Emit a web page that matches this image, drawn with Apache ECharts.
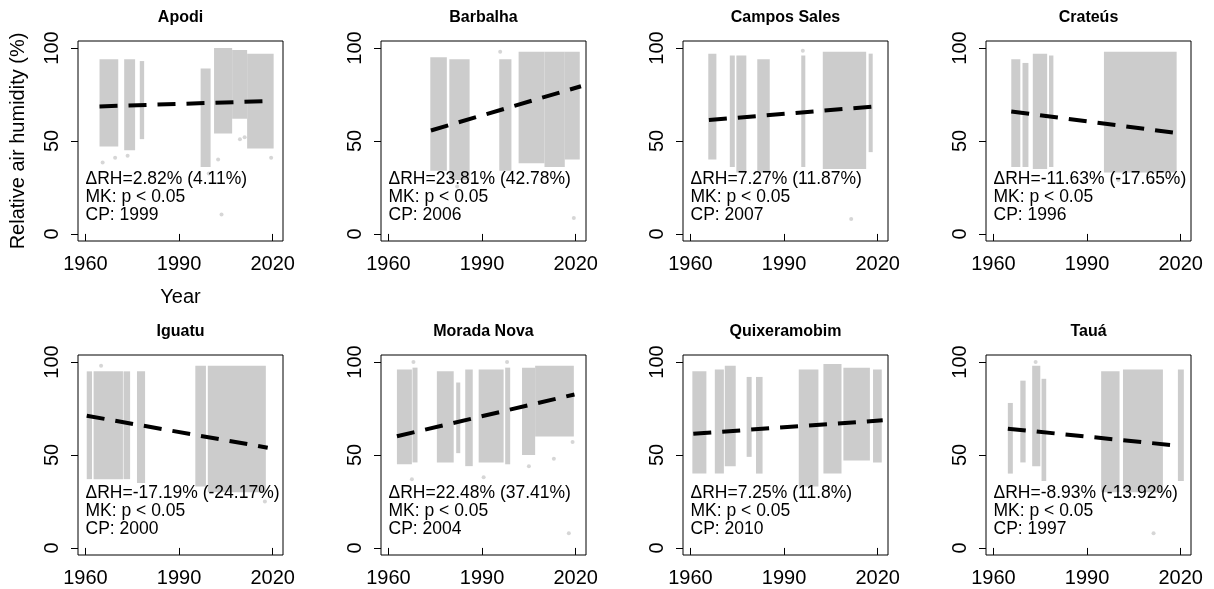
<!DOCTYPE html>
<html>
<head>
<meta charset="utf-8">
<script src="https://cdn.jsdelivr.net/npm/echarts@6/dist/echarts.min.js"></script>
<style>
  html, body { margin: 0; padding: 0; background: #ffffff; }
  #chart { width: 1214px; height: 589px; }
</style>
</head>
<body>
<div id="chart"></div>
<script>
// ---- data ---------------------------------------------------------------
const stations = ['Apodi', 'Barbalha', 'Campos Sales', 'Crateús',
                  'Iguatu', 'Morada Nova', 'Quixeramobim', 'Tauá'];
const xTicks = [1960, 1990, 2020];
const yTicks = [0, 50, 100];

// Observation periods: [first year, last year, lowest RH (%), highest RH (%)]
const apodiPeriods = [
  [1964.5, 1970.5, 47, 94], [1972.4, 1975.9, 45, 94], [1977.4, 1978.8, 51, 93],
  [1996.9, 2000.1, 36, 89], [2001.2, 2007.0, 54, 100], [2007.0, 2011.8, 62, 99],
  [2011.8, 2020.3, 46, 97]
];
const barbalhaPeriods = [
  [1973.4, 1978.7, 34, 95], [1979.5, 1986.0, 29, 94], [1995.5, 1999.4, 34, 94],
  [2001.7, 2010.0, 38, 98], [2010.0, 2016.5, 36, 98], [2016.5, 2021.3, 40, 98]
];
const camposSalesPeriods = [
  [1965.7, 1968.3, 40, 97], [1972.6, 1974.2, 36, 96], [1974.7, 1977.9, 33, 96],
  [1981.4, 1985.4, 33, 94], [1995.5, 1996.8, 36, 96], [2002.4, 2016.3, 35, 98],
  [2017.1, 2018.4, 44, 97]
];
const crateusPeriods = [
  [1965.7, 1968.6, 36, 94], [1969.3, 1971.2, 36, 92], [1972.6, 1977.2, 35, 97],
  [1977.8, 1979.2, 36, 96], [1995.4, 2018.7, 33, 98]
];
const iguatuPeriods = [
  [1960.4, 1962.1, 37, 95], [1962.6, 1972.0, 37, 95], [1972.2, 1974.3, 37, 95],
  [1976.5, 1979.1, 35, 95], [1995.2, 1998.6, 33, 98], [1999.2, 2017.8, 30, 98]
];
const moradaNovaPeriods = [
  [1962.7, 1967.5, 45, 96], [1967.7, 1969.3, 46, 97], [1975.5, 1980.9, 46, 95],
  [1981.7, 1983.0, 51, 89], [1984.6, 1987.0, 44, 96], [1988.9, 1996.9, 46, 96],
  [1997.4, 1999.0, 45, 97], [2002.8, 2007.0, 50, 97], [2007.0, 2019.4, 60, 98]
];
const quixeramobimPeriods = [
  [1960.6, 1965.1, 40, 95], [1967.8, 1970.7, 40, 96], [1971.0, 1974.5, 44, 98],
  [1978.0, 1979.6, 49, 92], [1981.0, 1983.1, 40, 92], [1994.7, 2001.0, 33, 96],
  [2002.6, 2008.4, 40, 99], [2009.0, 2017.5, 47, 97], [2018.5, 2021.3, 46, 96]
];
const tauaPeriods = [
  [1964.6, 1966.2, 40, 78], [1968.6, 1970.3, 46, 90], [1972.4, 1975.0, 44, 98],
  [1975.4, 1976.9, 36, 91], [1994.5, 2000.4, 30, 95], [2001.5, 2014.3, 30, 96],
  [2019.1, 2021.0, 36, 96]
];

// Isolated readings outside the dense bands: [year, RH (%)]
const apodiIsolated = [[1965.5, 38.5], [1969.5, 41], [1973.5, 42], [1999.5, 32.5],
  [2002.5, 40], [2003.6, 10.4], [2009.5, 51], [2011, 52], [2019.5, 41]];
const barbalhaIsolated = [[2019.4, 8.6], [1995.8, 98], [1982, 25.5]];
const camposSalesIsolated = [[2011.5, 8], [1996, 98.5]];
const crateusIsolated = [[2000, 29], [2011, 28]];
const iguatuIsolated = [[1965, 98], [2017.5, 25]];
const moradaNovaIsolated = [[2017.8, 7.9], [1968, 100], [1998, 100], [1967.5, 37],
  [1990.5, 38], [2005, 44], [2013, 48], [2019, 57]];
const quixeramobimIsolated = [];
const tauaIsolated = [[2011.3, 7.9], [1973.5, 100]];

// Trend line: span in years and RH at its start
const trendYears = [[1964.5, 2017.8], [1973.6, 2021.7], [1965.9, 2018.4], [1965.7, 2018.7],
                    [1960.4, 2018.4], [1962.7, 2019.6], [1960.9, 2021.6], [1964.6, 2017.8]];
const trendStartRH = [68.6, 55.66, 61.25, 65.89, 71.12, 60.09, 61.44, 64.15];
// Change over the trend span, absolute (%) and relative (%)
const deltaRH = [2.82, 23.81, 7.27, -11.63, -17.19, 22.48, 7.25, -8.93];
const deltaRel = ['4.11', '42.78', '11.87', '-17.65', '-24.17', '37.41', '11.8', '-13.92'];
const mkResult = ['p < 0.05', 'p < 0.05', 'p < 0.05', 'p < 0.05',
                  'p < 0.05', 'p < 0.05', 'p < 0.05', 'p < 0.05'];
const changePoint = [1999, 2006, 2007, 1996, 2000, 2004, 2010, 1997];

const periods = [apodiPeriods, barbalhaPeriods, camposSalesPeriods, crateusPeriods,
                 iguatuPeriods, moradaNovaPeriods, quixeramobimPeriods, tauaPeriods];
const isolated = [apodiIsolated, barbalhaIsolated, camposSalesIsolated, crateusIsolated,
                  iguatuIsolated, moradaNovaIsolated, quixeramobimIsolated, tauaIsolated];

// ---- layout -------------------------------------------------------------
const FONT = '"Liberation Sans", Arial, Helvetica, sans-serif';
const POINT_GREY = '#cccccc';
const colLeft = [78, 381, 683, 986];
const rowTop = [41, 355];
const boxW = 205, boxH = 200;
const xRange = [1957.6, 2023.3];
const yRange = [-3.8, 103.8];
const noteYear = 1960;
const noteRH = [29.6, 19.8, 10.0];
const plain = v => String(v);

const grids = [], xAxes = [], yAxes = [], titles = [], series = [];

stations.forEach((name, i) => {
  const left = colLeft[i % 4];
  const top = rowTop[Math.floor(i / 4)];

  grids.push({ left, top, width: boxW, height: boxH, show: true,
               borderColor: '#000', borderWidth: 1, backgroundColor: 'transparent' });

  titles.push({
    text: name, left: left + boxW / 2, top: top - 31, textAlign: 'center', padding: 0,
    textStyle: { fontSize: 16, fontWeight: 'bold', color: '#000', fontFamily: FONT }
  });

  xAxes.push({
    gridIndex: i, type: 'value', min: xRange[0], max: xRange[1],
    axisLine: { show: false }, splitLine: { show: false },
    axisTick: { show: true, length: 7, customValues: xTicks,
                lineStyle: { color: '#000', width: 1 } },
    axisLabel: { customValues: xTicks, formatter: plain, fontSize: 20, color: '#000',
                 fontFamily: FONT, margin: 13 },
    name: i === 0 ? 'Year' : '', nameLocation: 'middle', nameGap: 46,
    nameTextStyle: { fontSize: 20, color: '#000', fontFamily: FONT }
  });

  yAxes.push({
    gridIndex: i, type: 'value', min: yRange[0], max: yRange[1],
    axisLine: { show: false }, splitLine: { show: false },
    axisTick: { show: true, length: 7, customValues: yTicks,
                lineStyle: { color: '#000', width: 1 } },
    axisLabel: { customValues: yTicks, formatter: plain, rotate: 90, fontSize: 20,
                 color: '#000', fontFamily: FONT, margin: 16 },
    name: i === 0 ? 'Relative air humidity (%)' : '', nameLocation: 'middle', nameGap: 50,
    nameRotate: 90,
    nameTextStyle: { fontSize: 20, color: '#000', fontFamily: FONT }
  });

  // dense bands of daily readings
  series.push({
    type: 'custom', xAxisIndex: i, yAxisIndex: i, z: 1, silent: true,
    data: periods[i],
    encode: { x: [0, 1], y: [2, 3] },
    renderItem: (params, api) => {
      const p0 = api.coord([api.value(0), api.value(3)]);
      const p1 = api.coord([api.value(1), api.value(2)]);
      return { type: 'rect',
               shape: { x: p0[0], y: p0[1], width: p1[0] - p0[0], height: p1[1] - p0[1] },
               style: { fill: POINT_GREY } };
    }
  });

  // isolated readings
  series.push({
    type: 'scatter', xAxisIndex: i, yAxisIndex: i, z: 2, silent: true,
    data: isolated[i], symbolSize: 4,
    itemStyle: { color: POINT_GREY }
  });

  // trend line
  const start = trendStartRH[i];
  const end = start + deltaRH[i];
  series.push({
    type: 'line', xAxisIndex: i, yAxisIndex: i, z: 3, silent: true,
    data: [[trendYears[i][0], start], [trendYears[i][1], end]],
    showSymbol: false, symbol: 'none',
    lineStyle: { color: '#000', width: 4, type: [18, 11], cap: 'butt' }
  });

  // statistics note
  const lines = [
    'ΔRH=' + deltaRH[i] + '% (' + deltaRel[i] + '%)',
    'MK: ' + mkResult[i],
    'CP: ' + changePoint[i]
  ];
  series.push({
    type: 'custom', xAxisIndex: i, yAxisIndex: i, z: 4, silent: true,
    data: noteRH.map(rh => [noteYear, rh]),
    renderItem: (params, api) => {
      const p = api.coord([api.value(0), api.value(1)]);
      return { type: 'text', x: p[0], y: p[1],
               style: { text: lines[params.dataIndex], fill: '#000', fontSize: 17.5,
                        fontFamily: FONT, align: 'left', verticalAlign: 'middle' } };
    }
  });
});

const chart = echarts.init(document.getElementById('chart'), null, { renderer: 'canvas' });
chart.setOption({
  backgroundColor: '#ffffff',
  animation: false,
  title: titles,
  grid: grids,
  xAxis: xAxes,
  yAxis: yAxes,
  series
});
</script>
</body>
</html>
